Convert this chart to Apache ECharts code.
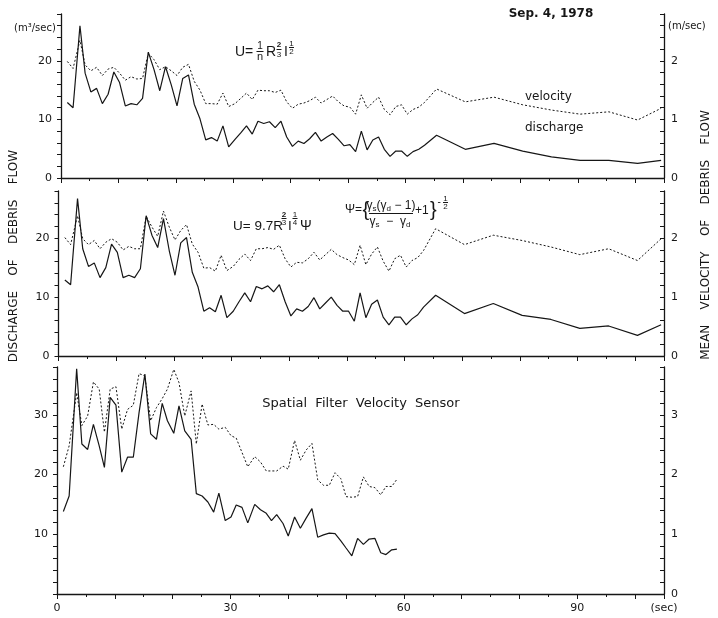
<!DOCTYPE html>
<html>
<head>
<meta charset="utf-8">
<script src="https://cdn.jsdelivr.net/npm/echarts@6/dist/echarts.min.js"></script>
<style>
  html, body { margin: 0; padding: 0; background: #fff; }
  #chart { width: 718px; height: 618px; }
</style>
</head>
<body>
<div id="chart"></div>
<script>
// Sample times (sec) shared by the two computed-velocity panels
const timeCalc = [1.1, 2.1, 3.3, 4.2, 5.2, 6.2, 7.2, 8.2, 9.2, 10.2, 11.2, 12.2, 13.2, 14.2, 15.2, 16.2, 17.2, 18.2, 19.2, 20.2,
  21.2, 22.2, 23.2, 24.2, 25.2, 26.2, 27.2, 28.2, 29.2,
  30.3, 31.3, 32.3, 33.3, 34.3, 35.3, 36.3, 37.3, 38.3, 39.3, 40.3, 41.3, 42.3, 43.3, 44.3, 45.3, 46.3, 47.3, 48.3, 49.3,
  50.3, 51.3, 52.3, 53.3, 54.3, 55.3, 56.3, 57.3, 58.3, 59.3, 60.3, 61.3, 62.3, 63.3,
  65.4, 70.4, 75.4, 80.4, 85.4, 90.4, 95.4, 100.4, 104.5];

// Panel 1: Manning formula  U = 1/n R^(2/3) I^(1/2)
const dischargeManning = [12.9, 12.0, 26.0, 17.9, 14.7, 15.3, 12.7, 14.3, 18.1, 16.3, 12.3, 12.7, 12.5, 13.6, 21.5, 18.5, 14.9, 19.0, 15.9, 12.3,
  17.0, 17.6, 12.6, 10.1, 6.5, 6.9, 6.3, 8.9, 5.3,
  6.6, 7.7, 8.9, 7.5, 9.7, 9.3, 9.6, 8.6, 9.7, 7.0, 5.4, 6.3, 5.9, 6.7, 7.8, 6.3, 7.0, 7.6, 6.6, 5.5,
  5.7, 4.5, 8.0, 4.8, 6.5, 7.0, 4.9, 3.7, 4.6, 4.6, 3.7, 4.5, 4.9, 5.6,
  7.3, 4.9, 5.9, 4.6, 3.6, 3.0, 3.0, 2.5, 3.0];
const velocityManning = [1.99, 1.87, 2.35, 1.93, 1.83, 1.89, 1.75, 1.86, 1.89, 1.79, 1.67, 1.73, 1.69, 1.70, 2.13, 2.02, 1.85, 1.90, 1.83, 1.75,
  1.89, 1.94, 1.65, 1.50, 1.27, 1.27, 1.26, 1.45, 1.22,
  1.27, 1.36, 1.45, 1.34, 1.50, 1.49, 1.49, 1.46, 1.50, 1.30, 1.19, 1.26, 1.28, 1.32, 1.38, 1.28, 1.34, 1.40, 1.30, 1.23,
  1.21, 1.09, 1.42, 1.19, 1.29, 1.38, 1.17, 1.08, 1.22, 1.25, 1.09, 1.17, 1.21, 1.29,
  1.52, 1.30, 1.38, 1.25, 1.16, 1.09, 1.13, 0.99, 1.19];

// Panel 2: U = 9.7 R^(2/3) I^(1/4) Psi
const dischargePsi = [12.9, 12.1, 26.7, 18.2, 15.2, 15.8, 13.3, 15.0, 19.0, 17.6, 13.3, 13.7, 13.3, 14.8, 23.8, 20.5, 18.4, 23.3, 17.9, 13.7,
  19.2, 20.1, 14.2, 11.7, 7.6, 8.2, 7.5, 10.3, 6.5,
  7.6, 9.2, 10.7, 9.2, 11.8, 11.4, 11.9, 10.9, 12.1, 9.2, 6.8, 8.0, 7.6, 8.4, 9.9, 8.0, 9.0, 10.0, 8.6, 7.6,
  7.6, 5.9, 10.7, 6.5, 8.8, 9.5, 6.6, 5.3, 6.6, 6.6, 5.3, 6.3, 7.0, 8.3,
  10.3, 7.2, 8.9, 6.9, 6.2, 4.7, 5.1, 3.5, 5.3];
const velocityPsi = [2.01, 1.89, 2.38, 1.99, 1.89, 1.96, 1.82, 1.93, 1.99, 1.93, 1.80, 1.86, 1.82, 1.82, 2.37, 2.19, 2.03, 2.46, 2.19, 1.97,
  2.13, 2.23, 1.90, 1.76, 1.49, 1.50, 1.44, 1.71, 1.45,
  1.52, 1.64, 1.73, 1.62, 1.82, 1.82, 1.84, 1.81, 1.88, 1.65, 1.51, 1.59, 1.58, 1.65, 1.76, 1.63, 1.72, 1.81, 1.72, 1.67,
  1.63, 1.55, 1.88, 1.55, 1.73, 1.85, 1.61, 1.44, 1.65, 1.71, 1.51, 1.62, 1.67, 1.79,
  2.16, 1.89, 2.05, 1.96, 1.85, 1.72, 1.82, 1.62, 1.99];

// Panel 3: spatial filter velocity sensor
const timeSensor = [1.1, 2.1, 3.4, 4.3, 5.3, 6.3, 7.3, 8.2, 9.2, 10.2, 11.2, 12.2, 13.2, 14.2, 15.2, 16.2, 17.2, 18.2, 19.1, 20.2,
  21.1, 22.1, 23.2, 24.1, 25.1, 26.1, 27.1, 28.0, 29.1, 30.1, 31.0, 32.0, 33.0, 34.2, 35.2, 36.2, 37.1, 38.0, 39.1, 40.0,
  41.1, 42.1, 43.1, 44.1, 45.1, 46.1, 47.1, 48.1, 49.1, 50.0, 51.0, 52.0, 53.0, 54.0, 55.0, 56.0, 56.9, 57.9, 58.8];
const dischargeSensor = [13.8, 16.4, 37.7, 25.1, 24.2, 28.4, 24.8, 21.2, 32.9, 31.6, 20.4, 22.9, 22.9, 30.4, 36.8, 26.8, 25.9, 31.9, 29.0, 26.9,
  31.5, 27.3, 25.9, 16.8, 16.4, 15.4, 13.7, 16.9, 12.3, 12.9, 14.9, 14.5, 11.9, 15.0, 14.1, 13.5, 12.3, 13.3, 11.8, 9.7,
  12.9, 11.0, 12.7, 14.3, 9.5, 9.9, 10.2, 10.1, 8.9, 7.7, 6.4, 9.3, 8.3, 9.2, 9.3, 6.9, 6.6, 7.4, 7.5];
const velocitySensor = [2.13, 2.48, 3.37, 2.82, 2.98, 3.55, 3.43, 2.71, 3.43, 3.47, 2.76, 3.09, 3.16, 3.69, 3.65, 2.90, 3.12, 3.27, 3.43, 3.76,
  3.54, 2.98, 3.40, 2.51, 3.18, 2.83, 2.84, 2.76, 2.79, 2.65, 2.61, 2.37, 2.13, 2.30, 2.21, 2.06, 2.06, 2.06, 2.14, 2.09,
  2.57, 2.24, 2.41, 2.52, 1.91, 1.82, 1.82, 2.03, 1.93, 1.63, 1.62, 1.63, 1.96, 1.80, 1.78, 1.66, 1.80, 1.80, 1.92];

// Axis ranges and labelled ticks
const timeMax = 105;
const timeLabels = [0, 30, 60, 90];
const timeUnitLabel = '(sec)';
const dischargeMax = [28, 28, 38];
const velocityMax = [2.8, 2.8, 3.8];

const INK = '#161616';
const FONT = 'DejaVu Sans';
const MATH = 'Liberation Sans';

const panels = [
  { time: timeCalc, q: dischargeManning, v: velocityManning },
  { time: timeCalc, q: dischargePsi, v: velocityPsi },
  { time: timeSensor, q: dischargeSensor, v: velocitySensor }
];

const grids = [
  { left: 61, right: 54, top: 14, height: 164 },
  { left: 58.5, right: 54, top: 191, height: 165 },
  { left: 57, right: 54, top: 367, height: 227 }
];

const pairs = (xs, ys) => xs.map((x, i) => [x, ys[i]]);
const near = (a, b) => Math.abs(a - b) < 1e-6;

const xAxes = grids.map((g, i) => ({
  gridIndex: i, type: 'value', min: 0, max: timeMax, interval: 10,
  axisLine: { show: true, onZero: false, lineStyle: { color: INK, width: 1.3 } },
  axisTick: { show: true, length: 5, lineStyle: { color: INK, width: 1 } },
  minorTick: { show: true, splitNumber: 2, length: 3, lineStyle: { color: INK, width: 1 } },
  splitLine: { show: false },
  axisLabel: {
    show: i === 2, margin: 9, color: INK, fontFamily: FONT, fontSize: 11, showMaxLabel: true,
    formatter: v => near(v, timeMax) ? timeUnitLabel : (timeLabels.some(t => near(t, v)) ? String(v) : '')
  }
}));

const yAxes = [];
grids.forEach((g, i) => {
  yAxes.push({
    gridIndex: i, type: 'value', position: 'left', min: 0, max: dischargeMax[i], interval: 2,
    axisLine: { show: true, onZero: false, lineStyle: { color: INK, width: 1.3 } },
    axisTick: { show: true, length: 4, lineStyle: { color: INK, width: 1 } },
    splitLine: { show: false },
    axisLabel: {
      margin: 9, color: INK, fontFamily: FONT, fontSize: 11,
      formatter: v => (near(v % 10, 0) && !(i === 2 && near(v, 0))) ? String(v) : ''
    }
  });
  yAxes.push({
    gridIndex: i, type: 'value', position: 'right', min: 0, max: velocityMax[i], interval: 0.2,
    axisLine: { show: true, onZero: false, lineStyle: { color: INK, width: 1.3 } },
    axisTick: { show: true, inside: true, length: 4, lineStyle: { color: INK, width: 1 } },
    splitLine: { show: false },
    axisLabel: {
      margin: 7, color: INK, fontFamily: FONT, fontSize: 11,
      formatter: v => near(v, Math.round(v)) ? String(Math.round(v)) : ''
    }
  });
});

const series = [];
panels.forEach((p, i) => {
  series.push({
    type: 'line', xAxisIndex: i, yAxisIndex: 2 * i, data: pairs(p.time, p.q),
    symbol: 'none', silent: true, animation: false,
    lineStyle: { color: INK, width: 1.2 }
  });
  series.push({
    type: 'line', xAxisIndex: i, yAxisIndex: 2 * i + 1, data: pairs(p.time, p.v),
    symbol: 'none', silent: true, animation: false,
    lineStyle: { color: INK, width: 1, type: [2, 2] }
  });
});

// Text helpers for the annotations and formulas
function txt(text, x, y, size, opts) {
  opts = opts || {};
  return {
    type: 'text', x: x, y: y, rotation: opts.rotation || 0, silent: true,
    style: {
      text: text, fill: INK, font: (opts.weight || 'normal') + ' ' + size + 'px "' + (opts.family || FONT) + '"',
      align: opts.align || 'left', verticalAlign: 'middle', rich: opts.rich
    }
  };
}
function bar(x1, x2, y) {
  return { type: 'line', silent: true, shape: { x1: x1, y1: y, x2: x2, y2: y }, style: { stroke: INK, lineWidth: 1 } };
}
const gammaRich = {
  g: { font: '12px "Liberation Sans"', fontSize: 12, fill: INK, lineHeight: 14, verticalAlign: 'middle' },
  s: { font: '8px "Liberation Sans"', fontSize: 8, fill: INK, lineHeight: 14, verticalAlign: 'bottom' }
};
const M = { family: MATH };
const Mc = { family: MATH, align: 'center' };

const graphics = [
  txt('Sep. 4, 1978', 551, 14, 12, { align: 'center', weight: 'bold' }),
  txt('(m³/sec)', 14, 28, 10),
  txt('(m/sec)', 668, 26, 10),
  txt('DISCHARGE    OF    DEBRIS    FLOW', 14, 256, 12, { align: 'center', rotation: Math.PI / 2 }),
  txt('MEAN    VELOCITY    OF    DEBRIS    FLOW', 706, 235, 12, { align: 'center', rotation: Math.PI / 2 }),
  txt('velocity', 525, 97, 12),
  txt('discharge', 525, 128, 12),
  txt('Spatial  Filter  Velocity  Sensor', 361, 404, 13, { align: 'center' }),

  // U = 1/n R^(2/3) I^(1/2)
  txt('U=', 235, 52, 14, M),
  txt('1', 260, 46, 10, Mc), bar(256.5, 263.5, 51.5), txt('n', 260, 57, 11, Mc),
  txt('R', 266, 52, 14, M),
  txt('2', 279, 45, 8, { family: MATH, align: 'center', weight: 'bold' }), bar(276.5, 281.5, 49.5), txt('3', 279, 54.5, 8, Mc),
  txt('I', 284, 52, 14, M),
  txt('1', 291.5, 43.5, 8, Mc), bar(289, 294, 47.5), txt('2', 291.5, 52, 8, Mc),

  // U = 9.7 R^(2/3) I^(1/4) Psi
  txt('U= 9.7R', 233, 226, 13.5, M),
  txt('2', 284, 214.5, 8, { family: MATH, align: 'center', weight: 'bold' }), bar(281.5, 286.5, 218.5), txt('3', 284, 223, 8, Mc),
  txt('I', 288, 226, 13.5, M),
  txt('1', 295, 214.5, 8, Mc), bar(292.5, 297.5, 218.5), txt('4', 295, 223, 8, Mc),
  txt('Ψ', 300, 226, 14, M),

  // Psi = { gs(gd - 1)/(gs - gd) + 1 }^(-1/2)
  txt('Ψ=', 345, 210, 12, M),
  txt('{', 362.5, 210, 20, M),
  txt('{g|γ}{s|s}{g|(γ}{s|d}{g| − 1)}', 391, 205.5, 12, { family: MATH, align: 'center', rich: gammaRich }),
  bar(369, 413, 213.5),
  txt('{g|γ}{s|s}{g|  −  γ}{s|d}', 390, 221.5, 12, { family: MATH, align: 'center', rich: gammaRich }),
  txt('+1', 415, 211, 12, M),
  txt('}', 430, 210, 20, M),
  txt('-', 437.5, 202, 10, M),
  txt('1', 445.5, 198.5, 8, Mc), bar(443, 448, 202.5), txt('2', 445.5, 207, 8, Mc)
];

const chart = echarts.init(document.getElementById('chart'), null, { renderer: 'canvas' });
chart.setOption({
  backgroundColor: '#fff',
  animation: false,
  grid: grids,
  xAxis: xAxes,
  yAxis: yAxes,
  series: series,
  graphic: graphics
});
</script>
</body>
</html>
